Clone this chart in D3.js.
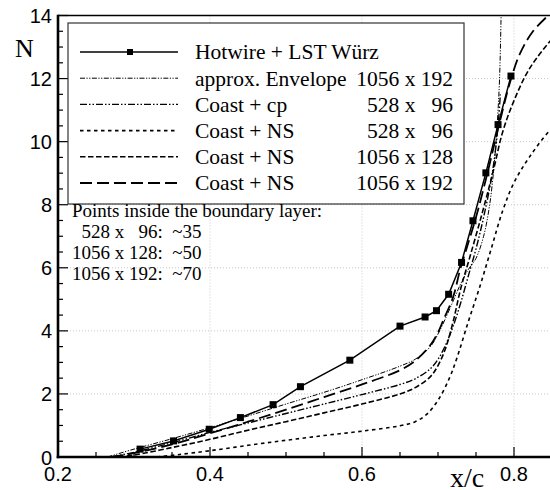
<!DOCTYPE html>
<html>
<head>
<meta charset="utf-8">
<script src="https://cdn.jsdelivr.net/npm/d3@7"></script>
<style>
  body { margin: 0; background: #fff; }
  svg { display: block; }
  .serif { font-family: "Liberation Serif", "Times New Roman", serif; }
  .sans { font-family: "Liberation Sans", Arial, sans-serif; }
</style>
</head>
<body>
<div id="chart"></div>
<script>
// measured data (Hotwire + LST Wuerz)
var hotX = [0.308, 0.352, 0.399, 0.440, 0.483, 0.519, 0.584, 0.650, 0.683, 0.698, 0.714, 0.731, 0.746, 0.763, 0.779, 0.796];
var hotN = [0.25, 0.51, 0.88, 1.25, 1.66, 2.23, 3.07, 4.15, 4.44, 4.64, 5.16, 6.17, 7.49, 9.01, 10.54, 12.08];

// approx. Envelope 1056 x 192
var envX = [0.265, 0.30, 0.35, 0.40, 0.45, 0.50, 0.55, 0.60, 0.65, 0.67, 0.69, 0.70, 0.71, 0.72, 0.73, 0.74, 0.75, 0.76, 0.768, 0.774, 0.778, 0.781, 0.783];
var envN = [0, 0.25, 0.58, 0.93, 1.3, 1.68, 2.05, 2.45, 2.88, 3.1, 3.5, 3.9, 4.4, 4.95, 5.5, 5.95, 6.3, 7.0, 8.0, 9.3, 10.6, 12.0, 14];

// Coast + cp 528 x 96
var cpX = [0.27, 0.30, 0.35, 0.40, 0.45, 0.50, 0.55, 0.60, 0.65, 0.67, 0.69, 0.70, 0.71, 0.72, 0.73, 0.74, 0.75, 0.76, 0.77, 0.776, 0.78, 0.782];
var cpN = [0, 0.15, 0.45, 0.78, 1.08, 1.38, 1.68, 1.98, 2.3, 2.48, 2.8, 3.1, 3.55, 4.15, 4.9, 5.75, 6.6, 7.6, 8.8, 9.8, 10.8, 11.5];

// Coast + NS 528 x 96
var ns96X = [0.33, 0.36, 0.40, 0.45, 0.50, 0.55, 0.60, 0.65, 0.67, 0.685, 0.70, 0.715, 0.725, 0.74, 0.755, 0.77, 0.785, 0.80, 0.82, 0.847, 0.86];
var ns96N = [0, 0.08, 0.2, 0.37, 0.53, 0.68, 0.82, 0.99, 1.12, 1.35, 1.8, 2.5, 3.15, 4.3, 5.4, 6.6, 7.8, 8.7, 9.5, 10.35, 10.6];

// Coast + NS 1056 x 128
var ns128X = [0.28, 0.30, 0.35, 0.40, 0.45, 0.50, 0.55, 0.60, 0.65, 0.67, 0.69, 0.70, 0.71, 0.72, 0.73, 0.742, 0.758, 0.773, 0.785, 0.80, 0.82, 0.848, 0.86];
var ns128N = [0, 0.06, 0.3, 0.56, 0.85, 1.12, 1.4, 1.68, 2.0, 2.2, 2.55, 2.9, 3.45, 4.3, 5.35, 6.35, 7.72, 9.1, 10.3, 11.3, 12.3, 13.2, 13.5];

// Coast + NS 1056 x 192
var ns192X = [0.27, 0.30, 0.35, 0.40, 0.45, 0.50, 0.55, 0.60, 0.65, 0.67, 0.69, 0.70, 0.707, 0.72, 0.729, 0.74, 0.75, 0.765, 0.78, 0.795, 0.808, 0.825, 0.845];
var ns192N = [0, 0.12, 0.4, 0.75, 1.12, 1.5, 1.9, 2.3, 2.75, 3.05, 3.55, 3.95, 4.34, 5.08, 5.93, 6.8, 7.6, 9.0, 10.5, 11.9, 12.8, 13.5, 14];

var legendNames = ["Hotwire + LST Würz", "approx. Envelope", "Coast + cp", "Coast + NS", "Coast + NS", "Coast + NS"];
var legendGrids = ["", "1056 x 192", "528 x   96", "528 x   96", "1056 x 128", "1056 x 192"];
var noteLines = ["Points inside the boundary layer:", "  528 x   96:  ~35", "1056 x 128:  ~50", "1056 x 192:  ~70"];

var xTicks = [0.2, 0.4, 0.6, 0.8];
var yTicks = [0, 2, 4, 6, 8, 10, 12, 14];

var width = 550, height = 490;
// window.top is read-only, so the frame edges get plot* names
var plotLeft = 58, plotTop = 15.5, plotBottom = 457;

var svg = d3.select("#chart")
  .append("svg")
  .attr("width", width)
  .attr("height", height);

var x = d3.scaleLinear().domain([0.2, 0.86]).range([plotLeft, plotLeft + 0.66 * 760]);
var y = d3.scaleLinear().domain([0, 14]).range([plotBottom, plotTop]);

svg.append("clipPath")
  .attr("id", "plot")
  .append("rect")
  .attr("x", plotLeft)
  .attr("y", plotTop)
  .attr("width", width - plotLeft)
  .attr("height", plotBottom - plotTop);

// dotted grid
var grid = svg.append("g")
  .attr("stroke", "#c8c8c8")
  .attr("stroke-width", 1)
  .attr("stroke-dasharray", "1,2");
grid.selectAll("line.gy")
  .data(yTicks.slice(1, -1))
  .enter().append("line")
  .attr("x1", plotLeft).attr("x2", width)
  .attr("y1", d => y(d)).attr("y2", d => y(d));
grid.selectAll("line.gx")
  .data(xTicks.slice(1))
  .enter().append("line")
  .attr("x1", d => x(d)).attr("x2", d => x(d))
  .attr("y1", plotTop).attr("y2", plotBottom);

// series definitions (styles only)
var series = [
  { xs: hotX, ns: hotN, dash: null, w: 1.5, marks: true, curve: d3.curveLinear },
  { xs: envX, ns: envN, dash: "5,1.5,1.2,1.5,1.2,1.5", w: 1, curve: d3.curveCatmullRom },
  { xs: cpX, ns: cpN, dash: "7,2,1.5,2,1.5,2", w: 1.4, curve: d3.curveCatmullRom },
  { xs: ns96X, ns: ns96N, dash: "3.5,3.5", w: 1.6, curve: d3.curveCatmullRom },
  { xs: ns128X, ns: ns128N, dash: "5.5,2.5", w: 1.6, curve: d3.curveCatmullRom },
  { xs: ns192X, ns: ns192N, dash: "12,5", w: 1.8, curve: d3.curveCatmullRom }
];

var curves = svg.append("g").attr("clip-path", "url(#plot)");

series.forEach(function(s) {
  var pts = s.xs.map((v, i) => [v, s.ns[i]]);
  var line = d3.line()
    .x(d => x(d[0]))
    .y(d => y(d[1]))
    .curve(s.curve);
  curves.append("path")
    .attr("d", line(pts))
    .attr("fill", "none")
    .attr("stroke", "#000")
    .attr("stroke-width", s.w)
    .attr("stroke-dasharray", s.dash);
  if (s.marks) {
    curves.selectAll(null)
      .data(pts)
      .enter().append("rect")
      .attr("x", d => x(d[0]) - 3.5)
      .attr("y", d => y(d[1]) - 3.5)
      .attr("width", 7)
      .attr("height", 7)
      .attr("fill", "#000");
  }
});

// axes frame
svg.append("line")
  .attr("x1", plotLeft).attr("x2", width)
  .attr("y1", plotTop).attr("y2", plotTop)
  .attr("stroke", "#000").attr("stroke-width", 1.5);
svg.append("line")
  .attr("x1", plotLeft).attr("x2", plotLeft)
  .attr("y1", plotTop - 0.75).attr("y2", plotBottom + 1.3)
  .attr("stroke", "#000").attr("stroke-width", 2.6);
svg.append("line")
  .attr("x1", plotLeft - 1.3).attr("x2", width)
  .attr("y1", plotBottom).attr("y2", plotBottom)
  .attr("stroke", "#000").attr("stroke-width", 2.6);

// ticks pointing inward
var yMinor = d3.range(0, 14.01, 0.5);
svg.append("g").selectAll("line")
  .data(yMinor)
  .enter().append("line")
  .attr("x1", plotLeft)
  .attr("x2", d => plotLeft + (d % 2 === 0 ? 10 : 5))
  .attr("y1", d => y(d)).attr("y2", d => y(d))
  .attr("stroke", "#000").attr("stroke-width", 1.2);

var xMinor = d3.range(0.2, 0.86, 0.05);
svg.append("g").selectAll("line")
  .data(xMinor)
  .enter().append("line")
  .attr("x1", d => x(d)).attr("x2", d => x(d))
  .attr("y1", plotBottom)
  .attr("y2", (d, i) => plotBottom - (i % 4 === 0 ? 10 : 5))
  .attr("stroke", "#000").attr("stroke-width", 1.2);

svg.append("g").selectAll("text")
  .data(yTicks)
  .enter().append("text")
  .attr("class", "sans")
  .attr("x", 52)
  .attr("y", d => y(d) + 7.5)
  .attr("text-anchor", "end")
  .attr("font-size", 20)
  .text(d => d);

svg.append("g").selectAll("text")
  .data(xTicks)
  .enter().append("text")
  .attr("class", "sans")
  .attr("x", d => x(d))
  .attr("y", 481)
  .attr("text-anchor", "middle")
  .attr("font-size", 20)
  .text(d => d3.format(".1f")(d));

svg.append("text")
  .attr("class", "serif")
  .attr("x", 15).attr("y", 57)
  .attr("font-size", 26)
  .text("N");

svg.append("text")
  .attr("class", "serif")
  .attr("x", 467).attr("y", 487)
  .attr("text-anchor", "middle")
  .attr("font-size", 28)
  .text("x/c");

// legend
var legend = svg.append("g");
legend.append("rect")
  .attr("x", 68).attr("y", 23)
  .attr("width", 396).attr("height", 181)
  .attr("fill", "#fff")
  .attr("stroke", "#333")
  .attr("stroke-width", 1.2);

series.forEach(function(s, i) {
  var ly = 52 + i * 26.2;
  legend.append("line")
    .attr("x1", 80).attr("x2", 178)
    .attr("y1", ly).attr("y2", ly)
    .attr("stroke", "#000")
    .attr("stroke-width", s.w)
    .attr("stroke-dasharray", s.dash);
  if (s.marks) {
    legend.append("rect")
      .attr("x", 127).attr("y", ly - 3)
      .attr("width", 6).attr("height", 6)
      .attr("fill", "#000");
  }
  legend.append("text")
    .attr("class", "serif")
    .attr("x", 195).attr("y", ly + 7.3)
    .attr("font-size", 21.5)
    .text(legendNames[i]);
  legend.append("text")
    .attr("class", "serif")
    .attr("x", 453).attr("y", ly + 7.3)
    .attr("text-anchor", "end")
    .attr("font-size", 21.5)
    .attr("xml:space", "preserve")
    .style("white-space", "pre")
    .text(legendGrids[i]);
});

// note about boundary layer resolution
svg.append("g").selectAll("text")
  .data(noteLines)
  .enter().append("text")
  .attr("class", "serif")
  .attr("x", 72)
  .attr("y", (d, i) => 217 + i * 21)
  .attr("font-size", 19)
  .attr("xml:space", "preserve")
  .style("white-space", "pre")
  .text(d => d);
</script>
</body>
</html>
